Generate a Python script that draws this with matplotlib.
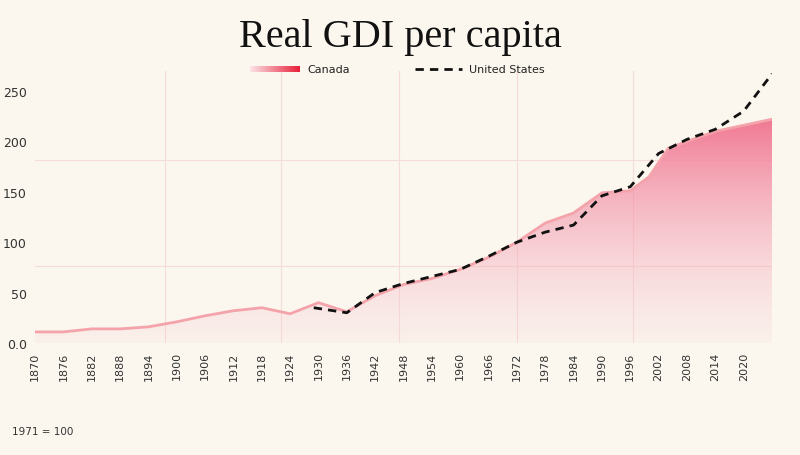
import numpy as np
import matplotlib.pyplot as plt
from matplotlib.colors import LinearSegmentedColormap
from matplotlib.lines import Line2D

ca_years = [1870,1876,1882,1888,1894,1900,1906,1912,1918,1924,1930,1936,1942,1948,1954,1960,1966,1972,1978,1984,1990,1996,2000,2004,2008,2014,2020,2026]
ca_vals  = [11,11,14,14,16,21,27,32,35,29,40,31,47,58,64,73,85,100,119,129,149,151,165,193,200,210,216,222]
us_years = [1929,1936,1942,1948,1954,1960,1966,1972,1978,1984,1990,1996,2002,2008,2014,2020,2026]
us_vals  = [35,30,50,59,66,73,86,100,110,117,146,155,188,202,212,230,267]
x_ticks = list(range(1870, 2021, 6))
y_ticks = [0, 50, 100, 150, 200, 250]
y_labels = ["0.0", "50", "100", "150", "200", "250"]

bg = "#fbf7ee"
fig = plt.figure(figsize=(8, 4.56), dpi=100, facecolor=bg)
top_px, bot_px = 72, 344
ax = fig.add_axes([35/800, 1-bot_px/456, (772-35)/800, (bot_px-top_px)/456], facecolor=bg)
xmin, xmax = 1870, 2026
ax.set_xlim(xmin, xmax)
ax.set_ylim(0, 250 * (bot_px-top_px) / 252)

for gx in [1897.5, 1922, 1947, 1972, 1996.5]:
    ax.axvline(gx, color="#f6dcd8", lw=0.8, zorder=0)
for gy in [76, 182]:
    ax.axhline(gy, color="#f6dcd8", lw=0.8, zorder=0)

cmap = LinearSegmentedColormap.from_list("g", [(0.97, 0.80, 0.85, 0.15), (0.94, 0.42, 0.54, 0.9)])
grad = np.linspace(0, 1, 256).reshape(-1, 1)
im = ax.imshow(grad, aspect="auto", cmap=cmap, origin="lower",
               extent=[xmin, xmax, 0, 222], zorder=1)
poly = ax.fill_between(ca_years, ca_vals, 0, color="none")
im.set_clip_path(poly.get_paths()[0], transform=ax.transData)
ax.plot(ca_years, ca_vals, color="#f4a3ab", lw=2, zorder=2)
ax.plot(us_years, us_vals, color="#111111", lw=2, ls=(0, (3, 2.2)), zorder=3)

ax.set_xticks(x_ticks)
ax.set_xticklabels([str(y) for y in x_ticks], rotation=90, fontsize=8, color="#333333")
ax.set_yticks(y_ticks)
ax.set_yticklabels(y_labels, fontsize=9, color="#333333")
ax.tick_params(length=0, pad=6)
for s in ax.spines.values():
    s.set_visible(False)

fig.text(0.5, 1-38/456, "Real GDI per capita", ha="center", va="center",
         fontsize=29, family="Liberation Serif", color="#111111")
fig.text(12/800, 1-432/456, "1971 = 100", fontsize=7.5, color="#333333", va="center")

lax = fig.add_axes([250/800, 1-73/456, 50/800, 6/456])
lcmap = LinearSegmentedColormap.from_list("l", ["#fbe3e6", "#e8203a"])
lax.imshow(np.linspace(0, 1, 100).reshape(1, -1), aspect="auto", cmap=lcmap)
lax.axis("off")
fig.text(307/800, 1-70/456, "Canada", fontsize=8, va="center", color="#222222")
fig.add_artist(Line2D([415/800, 462/800], [1-70/456]*2, color="#111111", lw=2,
                      ls=(0, (3, 2.2))))
fig.text(469/800, 1-70/456, "United States", fontsize=8, va="center", color="#222222")

fig.savefig("out.png", dpi=100, facecolor=bg)
